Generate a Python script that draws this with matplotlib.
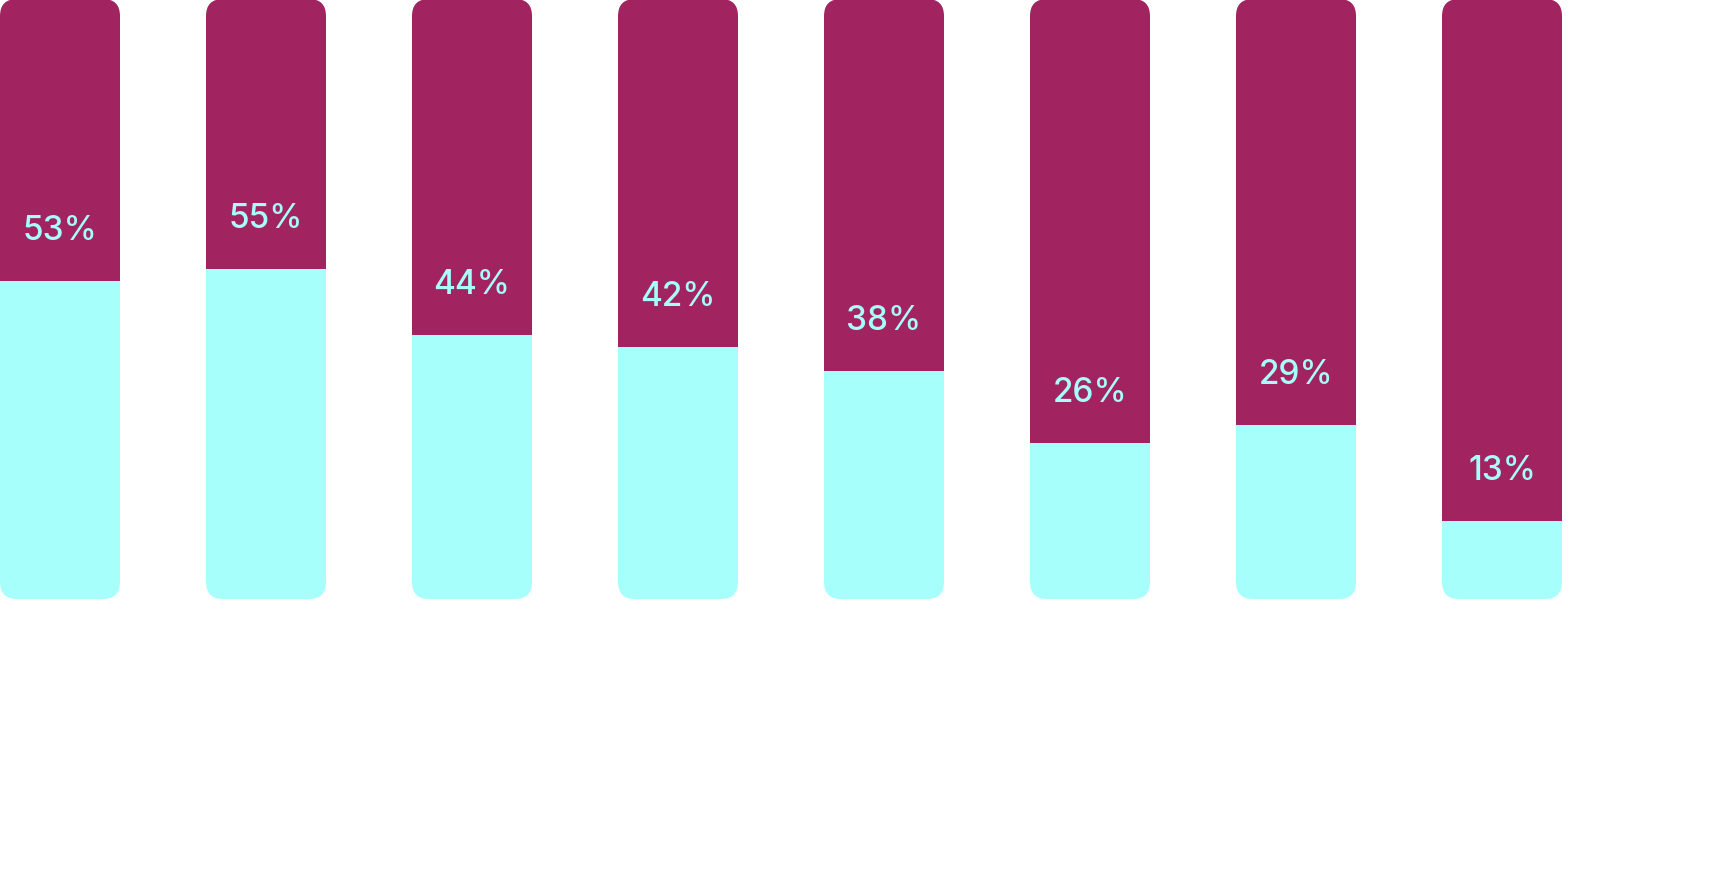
import numpy as np
import matplotlib
matplotlib.use('Agg')
import matplotlib.pyplot as plt
from matplotlib.patches import FancyBboxPatch

values = [53, 55, 44, 42, 38, 26, 29, 13]
labels = ['53%', '55%', '44%', '42%', '38%', '26%', '29%', '13%']

cyan = '#A6FFFA'
magenta = '#A12461'

fig = plt.figure(figsize=(17.12, 8.78), dpi=100)
ax = fig.add_axes([0, 0, 1, 1])
ax.axis('off')

step_px = 206.0
width = 120.0 / step_px
ax.set_xlim(-width / 2, -width / 2 + 1712.0 / step_px)
ax.set_ylim(-278.0 / 600, 1.0)

x = np.arange(len(values))
frac = np.array(values) / 100.0

low = ax.bar(x, frac, width=width, color=cyan, linewidth=0)
high = ax.bar(x, 1 - frac, bottom=frac, width=width, color=magenta, linewidth=0)

# round the outer corners of each bar by clipping both pieces
for i in x:
    clip = FancyBboxPatch((i - width / 2, 0), width, 1.0,
                          boxstyle='round,pad=0,rounding_size=%f' % (17.0 / step_px),
                          mutation_aspect=step_px / 600.0,
                          transform=ax.transData)
    low[i].set_clip_path(clip)
    high[i].set_clip_path(clip)

for i, (v, lab) in enumerate(zip(frac, labels)):
    ax.annotate(lab, (i, v), xytext=(0, 37), textcoords='offset points',
                ha='center', va='center', color=cyan, fontsize=24,
                fontweight='medium', family=['Inter', 'DejaVu Sans'])

fig.savefig('out.png', dpi=100)
